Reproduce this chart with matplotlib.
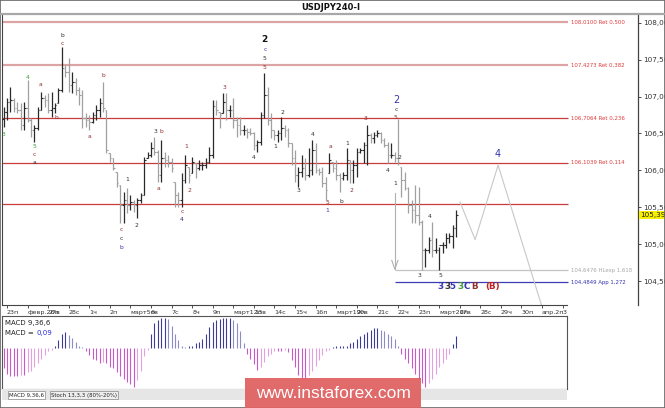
import matplotlib
matplotlib.use("Agg")
import matplotlib.pyplot as plt
from matplotlib.patches import Rectangle
from matplotlib.lines import Line2D
import matplotlib.transforms as mtransforms
import numpy as np

# ---------------- data ----------------
bar_high = [106.86, 106.98, 107.13, 106.98, 106.93, 106.91, 106.93, 107.22, 106.71, 106.61,
            106.86, 107.06, 107.02, 107.05, 107.06, 106.91, 107.12, 107.67, 107.43, 107.52,
            107.33, 107.25, 107.13, 107.09, 106.78, 106.75, 106.79, 106.89, 106.98, 107.20,
            106.82, 106.23, 106.17, 105.98, 105.80, 105.71, 105.76, 105.67, 105.60, 105.63,
            105.69, 106.18, 106.25, 106.38, 106.45, 106.28, 106.41, 106.25, 106.21, 106.17,
            105.84, 105.71, 105.96, 106.21, 106.05, 106.18, 106.10, 106.14, 106.11, 106.17,
            106.32, 106.95, 106.95, 106.79, 107.05, 107.05, 106.89, 106.98, 106.72, 106.72,
            106.61, 106.57, 106.57, 106.52, 106.41, 106.79, 107.32, 107.13, 106.78, 106.55,
            106.55, 106.72, 106.61, 106.57, 106.37, 106.28, 106.05, 106.21, 106.17, 106.30,
            106.41, 106.37, 106.03, 106.05, 105.91, 106.23, 106.11, 106.14, 105.96, 105.98,
            106.30, 106.14, 106.14, 106.30, 106.30, 106.38, 106.61, 106.51, 106.52, 106.55,
            106.52, 106.44, 106.38, 106.37, 106.25, 106.70, 106.05, 105.98, 105.77, 105.60,
            105.80, 105.77, 105.32, 104.95, 105.10, 105.30, 105.08, 104.96, 105.03, 105.15,
            105.15, 105.26, 105.46]
bar_low = [106.59, 106.68, 106.79, 106.79, 106.78, 106.55, 106.55, 106.65, 106.45, 106.38,
           106.55, 106.82, 106.86, 106.78, 106.72, 106.78, 106.91, 107.06, 107.26, 107.06,
           107.05, 107.02, 106.89, 106.57, 106.59, 106.55, 106.64, 106.68, 106.72, 106.79,
           106.23, 106.11, 106.00, 105.77, 105.29, 105.29, 105.42, 105.46, 105.44, 105.35,
           105.56, 105.67, 106.17, 106.18, 106.21, 105.84, 105.84, 106.05, 106.05, 105.98,
           105.50, 105.50, 105.50, 105.83, 105.83, 105.96, 105.90, 106.00, 106.00, 106.03,
           106.10, 106.17, 106.75, 106.57, 106.78, 106.68, 106.72, 106.57, 106.45, 106.48,
           106.48, 106.44, 106.48, 106.28, 106.25, 106.34, 106.71, 106.61, 106.44, 106.41,
           106.38, 106.41, 106.45, 106.32, 106.07, 105.84, 105.77, 105.91, 105.87, 105.91,
           105.94, 105.96, 105.94, 105.77, 105.60, 105.96, 105.98, 105.87, 105.71, 105.87,
           105.87, 105.83, 105.83, 105.91, 106.23, 106.10, 106.07, 106.37, 106.37, 106.45,
           106.37, 106.32, 106.10, 106.17, 106.11, 106.07, 105.64, 105.73, 105.42, 105.29,
           105.29, 105.26, 104.65, 104.69, 104.88, 104.83, 104.88, 104.65, 104.88, 104.95,
           105.02, 104.95, 105.10]
bar_close = [106.79, 106.93, 106.95, 106.84, 106.82, 106.61, 106.84, 106.68, 106.55, 106.57,
             106.82, 106.98, 106.95, 106.82, 106.84, 106.89, 107.09, 107.39, 107.33, 107.16,
             107.20, 107.09, 107.02, 106.71, 106.68, 106.65, 106.75, 106.82, 106.91, 106.84,
             106.28, 106.17, 106.03, 105.83, 105.53, 105.60, 105.53, 105.57, 105.53, 105.60,
             105.67, 106.14, 106.21, 106.30, 106.25, 105.94, 106.17, 106.14, 106.11, 106.03,
             105.67, 105.60, 105.87, 106.07, 105.94, 106.11, 106.03, 106.07, 106.07, 106.11,
             106.21, 106.87, 106.82, 106.75, 106.93, 106.82, 106.82, 106.68, 106.61, 106.55,
             106.55, 106.52, 106.51, 106.34, 106.38, 106.75, 107.02, 106.68, 106.55, 106.48,
             106.51, 106.57, 106.55, 106.37, 106.17, 105.94, 105.98, 106.03, 105.94, 106.00,
             106.28, 106.00, 105.98, 105.83, 105.73, 106.14, 106.03, 105.94, 105.90, 105.94,
             106.14, 106.00, 106.07, 106.25, 106.28, 106.34, 106.48, 106.44, 106.48, 106.51,
             106.41, 106.34, 106.21, 106.21, 106.17, 106.11, 105.87, 105.76, 105.53, 105.46,
             105.40, 105.30, 104.92, 104.92, 105.06, 104.92, 104.92, 104.99, 104.99, 105.08,
             105.11, 105.22, 105.40]
first_open = 106.70

macd_hist = [-0.15, -0.19, -0.21, -0.21, -0.21, -0.20, -0.20, -0.18, -0.17, -0.14,
             -0.11, -0.08, -0.05, -0.02, -0.01, 0.02, 0.06, 0.11, 0.12, 0.10,
             0.08, 0.05, 0.02, 0.01, -0.02, -0.05, -0.08, -0.09, -0.11, -0.10,
             -0.11, -0.14, -0.15, -0.18, -0.21, -0.23, -0.25, -0.27, -0.29, -0.24,
             -0.17, -0.06, -0.01, 0.11, 0.19, 0.21, 0.23, 0.23, 0.22, 0.17,
             0.11, 0.06, 0.02, 0.01, 0.02, 0.02, 0.04, 0.05, 0.07, 0.11,
             0.16, 0.20, 0.21, 0.22, 0.23, 0.23, 0.23, 0.21, 0.19, 0.13,
             0.04, -0.04, -0.08, -0.12, -0.16, -0.14, -0.10, -0.06, -0.04, -0.02,
             -0.02, -0.02, -0.01, -0.03, -0.09, -0.14, -0.20, -0.23, -0.23, -0.20,
             -0.17, -0.13, -0.09, -0.05, -0.02, -0.01, 0.01, 0.02, 0.02, 0.02,
             0.02, 0.04, 0.05, 0.07, 0.09, 0.11, 0.12, 0.14, 0.15, 0.15,
             0.14, 0.13, 0.11, 0.09, 0.07, 0.02, -0.04, -0.08, -0.11, -0.15,
             -0.19, -0.23, -0.26, -0.29, -0.26, -0.23, -0.19, -0.14, -0.11, -0.08,
             -0.04, 0.03, 0.09]

day_labels = ["23п", "февр.26п", "27в", "28с", "1ч", "2п", "март5п", "6в", "7с", "8ч",
              "9п", "март12п", "13в", "14с", "15ч", "16п", "март19п", "20в", "21с", "22ч",
              "23п", "март26п", "27в", "28с", "29ч", "30п", "апр.2п", "3"]
bars_per_day = 6
first_day_bar = 1

price_ticks = [104.5, 105.0, 105.5, 106.0, 106.5, 107.0, 107.5, 108.0]

fib_levels = [108.0100, 107.4273, 106.7064, 106.1039]
fib_texts = ["108,0100 Ret 0,500", "107,4273 Ret 0,382", "106,7064 Ret 0,236", "106,1039 Ret 0,114"]
plain_level = 105.54
hlexp_level = 104.6476
app_level = 104.4849
last_price = 105.399

forecast_bar = [133.1, 137.5, 144.2, 158.0]
forecast_price = [105.57, 105.06, 106.07, 104.00]

arrow_bar = 114.1
arrow_from = 105.69
arrow_to = 104.66

GREEN, MAROON, DARK, BLUE = "#3a9a3a", "#8b3030", "#303030", "#3636b0"
wave_labels = [
    ("3", -0.15, 106.49, GREEN), ("4", 7.1, 107.26, GREEN), ("a", 10.9, 107.16, MAROON),
    ("b", 15.3, 106.72, MAROON), ("b", 17.1, 107.82, DARK), ("c", 17.1, 107.72, MAROON),
    ("b", 29.0, 107.29, MAROON), ("a", 25.2, 106.46, MAROON), ("5", 8.9, 106.32, GREEN),
    ("c", 8.9, 106.22, MAROON), ("a", 8.9, 106.11, DARK), ("3", 44.2, 106.53, DARK),
    ("b", 45.9, 106.53, MAROON), ("1", 53.2, 106.32, MAROON), ("3", 64.3, 107.12, MAROON),
    ("c", 76.2, 107.64, BLUE), ("5", 76.2, 107.52, DARK),
    ("5", 76.2, 107.39, MAROON), ("2", 81.2, 106.78, DARK), ("1", 79.2, 106.32, DARK),
    ("4", 90.2, 106.48, DARK), ("4", 73.0, 106.17, DARK), ("1", 36.0, 105.87, DARK),
    ("a", 45.3, 105.76, MAROON), ("2", 54.1, 105.73, MAROON), ("c", 34.3, 105.20, MAROON),
    ("c", 34.3, 105.07, DARK), ("b", 34.3, 104.96, BLUE), ("2", 38.9, 105.25, DARK),
    ("c", 52.0, 105.44, MAROON), ("4", 52.0, 105.33, "#2a2a70"), ("3", 85.9, 105.72, DARK),
    ("5", 94.3, 105.56, MAROON), ("1", 94.3, 105.45, BLUE), ("a", 95.2, 106.32, MAROON),
    ("b", 98.4, 105.58, DARK), ("1", 100.1, 106.37, DARK), ("2", 101.3, 105.73, MAROON),
    ("3", 105.4, 106.70, MAROON), ("4", 112.1, 106.00, DARK), ("2", 115.3, 106.17, DARK),
    ("1", 114.1, 105.82, DARK), ("c", 114.4, 106.83, DARK),
    ("5", 114.4, 106.71, MAROON), ("3", 121.4, 104.57, DARK), ("4", 124.3, 105.37, DARK),
    ("5", 127.3, 104.57, DARK),
]
big_labels = [("2", 76.2, 107.77, "#111111", 6.5), ("2", 114.4, 106.95, BLUE, 7.0),
              ("4", 144.2, 106.22, BLUE, 7.0)]
bottom_row = [("3", 127.3, BLUE), ("3", 129.3, DARK), ("5", 131.0, BLUE), ("3", 133.1, GREEN),
              ("C", 135.1, BLUE), ("B", 137.2, MAROON), ("(B)", 140.4, "#c02020")]
bottom_row_price = 104.42

# ---------------- layout helpers ----------------
W, H = 665, 408
def fx(x): return x / W
def fy(y): return 1 - y / H

fig = plt.figure(figsize=(W / 100, H / 100), dpi=100)
fig.patch.set_facecolor("white")
plt.rcParams['font.family'] = ['DejaVu Sans']

# bar index <-> pixel: x = 3.5 + 3.43 * i
def bx(px): return (px - 3.5) / 3.43

ax = fig.add_axes([fx(2), fy(305), fx(638) - fx(2), fy(14) - fy(305)])
ax.set_xlim(bx(2), bx(638))
ax.set_ylim(104.175, 108.118)
ax.set_facecolor("white")

n = len(bar_close)
idx = np.arange(n)
opens = [first_open] + bar_close[:-1]
up = [c >= o for c, o in zip(bar_close, opens)]
cols = ["#2a2a2a" if u else "#a0a0a0" for u in up]
ax.vlines(idx, bar_low, bar_high, colors=cols, lw=0.9, zorder=3)
op_clip = [min(max(o, l), h) for o, l, h in zip(opens, bar_low, bar_high)]
ax.hlines(op_clip, idx - 0.45, idx, colors=cols, lw=0.8, zorder=3)
ax.hlines(bar_close, idx, idx + 0.45, colors=cols, lw=0.8, zorder=3)

x_end = bx(568)
fib_cols = ["#dca4a4", "#dca4a4", "#c83c3c", "#c83c3c"]
fib_lw = [1.6, 1.6, 0.9, 0.9]
for lev, txt, c, lw in zip(fib_levels, fib_texts, fib_cols, fib_lw):
    ax.hlines(lev, bx(2), x_end, colors=c, lw=lw, zorder=2)
    ax.text(bx(571), lev, txt, color="#e03a3a", fontsize=3.9, va="center", ha="left", zorder=4)
ax.hlines(plain_level, bx(2), x_end, colors="#c83c3c", lw=0.9, zorder=2)
ax.hlines(hlexp_level, arrow_bar, x_end, colors="#c4c4c4", lw=0.9, zorder=2)
ax.text(bx(571), hlexp_level, "104,6476 HLexp 1,618", color="#a8a8a8", fontsize=3.9, va="center", ha="left")
ax.hlines(app_level, arrow_bar, x_end, colors="#3c3cb4", lw=0.9, zorder=2)
ax.text(bx(571), app_level, "104,4849 App 1,272", color="#3232b0", fontsize=3.9, va="center", ha="left")

# arrow
ax.plot([arrow_bar, arrow_bar], [arrow_from, arrow_to], color="#b0b0b0", lw=0.8, zorder=2)
ax.plot([arrow_bar - 0.9, arrow_bar, arrow_bar + 0.9], [arrow_to + 0.12, arrow_to, arrow_to + 0.12],
        color="#b0b0b0", lw=0.8, zorder=2)

# forecast path
ax.plot(forecast_bar, forecast_price, color="#c8c8c8", lw=0.8, zorder=2)

# wave labels
for t, i, p, c in wave_labels:
    ax.text(i, p, t, color=c, fontsize=4.3, ha="center", va="center", zorder=5)
for t, i, p, c, s in big_labels:
    ax.text(i, p, t, color=c, fontsize=s, ha="center", va="center", zorder=5,
            fontweight="bold" if c == "#111111" else "normal")
for t, i, c in bottom_row:
    ax.text(i, bottom_row_price, t, color=c, fontsize=6.3, ha="left" if t == "(B)" else "center",
            va="center", fontweight="bold", zorder=5)

# axes styling
for s in ["top"]:
    ax.spines[s].set_visible(False)
ax.spines["left"].set_color("#444444")
ax.spines["right"].set_color("#444444")
ax.spines["right"].set_linewidth(0.9)
ax.spines["bottom"].set_color("#444444")
ax.spines["bottom"].set_bounds(bx(2), bx(567))

ax.yaxis.tick_right()
ax.set_yticks(price_ticks)
ax.set_yticklabels([f"{v:.3f}".replace(".", ",") for v in price_ticks])
ax.tick_params(axis="y", length=2.5, width=0.6, labelsize=5.2, pad=1, colors="#333333")

tick_pos = [first_day_bar + bars_per_day * k for k in range(len(day_labels))]
ax.set_xticks(tick_pos)
ax.set_xticklabels(day_labels)
for lbl in ax.get_xticklabels():
    lbl.set_horizontalalignment("left")
ax.tick_params(axis="x", length=2.5, width=0.6, labelsize=4.6, pad=1, colors="#333333")

# current price box
trans = mtransforms.blended_transform_factory(ax.transAxes, ax.transData)
ax.text(1.004, last_price, "105,399", transform=trans, fontsize=5.2, va="center", ha="left",
        color="#222222", bbox=dict(boxstyle="square,pad=0.15", fc="#f8f000", ec="none"), zorder=6)

# ---------------- MACD panel ----------------
ax2 = fig.add_axes([fx(2), fy(389), fx(567) - fx(2), fy(316) - fy(389)])
ax2.set_xlim(bx(2), bx(567))
ax2.set_ylim(-0.306, 0.243)
mcols = []
prev = 0.0
for v in macd_hist:
    if v >= 0:
        mcols.append("#3c3c98" if v >= prev else "#8c8cc8")
    else:
        mcols.append("#c85ac8" if v <= prev else "#e2a2e2")
    prev = v
ax2.vlines(np.arange(len(macd_hist)), 0, macd_hist, colors=mcols, lw=0.8)
ax2.set_xticks([])
ax2.set_yticks([])
for s in ax2.spines.values():
    s.set_color("#555555")
    s.set_linewidth(0.8)
ax2.text(0.006, 0.9, "MACD 9,36,6", transform=ax2.transAxes, fontsize=5, color="#222222", va="center")
ax2.text(0.006, 0.77, "MACD =", transform=ax2.transAxes, fontsize=5, color="#222222", va="center")
ax2.text(0.061, 0.77, "0,09", transform=ax2.transAxes, fontsize=5, color="#2c2cd0", va="center")

# ---------------- chrome ----------------
fig.add_artist(Line2D([0, 1], [fy(14), fy(14)], transform=fig.transFigure, color="#a8a8a8", lw=1.6))
fig.text(fx(331), fy(7), "USDJPY240-I", fontsize=6, fontweight="bold", ha="center", va="center", color="#111111")
fig.add_artist(Rectangle((fx(2), fy(400)), fx(567) - fx(2), fy(389) - fy(400), transform=fig.transFigure,
                         fc="#e6e6e6", ec="none"))
fig.text(fx(9), fy(395), "MACD 9,36,6", fontsize=3.9, ha="left", va="center", color="#222222",
         bbox=dict(boxstyle="square,pad=0.2", fc="white", ec="#888888", lw=0.5))
fig.text(fx(51), fy(395), "Stoch 13,3,3 (80%-20%)", fontsize=3.9, ha="left", va="center", color="#222222",
         bbox=dict(boxstyle="square,pad=0.2", fc="#eeeeee", ec="#888888", lw=0.5))
fig.add_artist(Rectangle((fx(245), fy(408)), fx(421) - fx(245), fy(378) - fy(408), transform=fig.transFigure,
                         fc="#e06262", ec="none", alpha=0.95, zorder=10))
fig.text(fx(333), fy(393), "www.instaforex.com", fontsize=12.5, family="Liberation Sans",
         ha="center", va="center", color="white", zorder=11)
fig.add_artist(Rectangle((0, 0), 1, 1, transform=fig.transFigure, fill=False, ec="#666666", lw=1.2))

fig.savefig("out.png", dpi=100, facecolor="white")
